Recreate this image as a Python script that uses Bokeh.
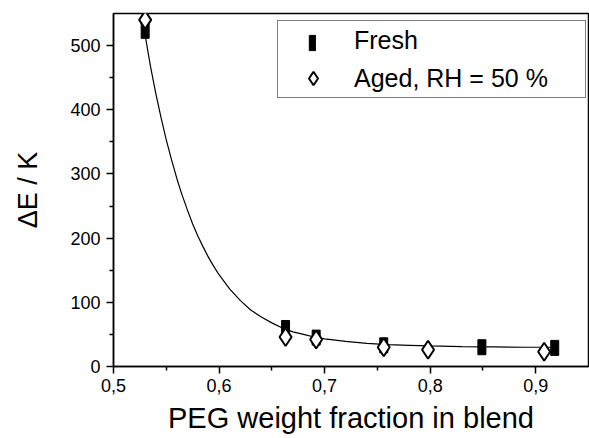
from bokeh.plotting import figure
from bokeh.models import Range1d, FixedTicker, Legend, LegendItem
from bokeh.embed import file_html
from bokeh.resources import INLINE

# ---- data ----
fresh_x = [0.530, 0.663, 0.692, 0.756, 0.849, 0.918]
fresh_y = [523, 60, 45, 33, 30, 29]

aged_x = [0.530, 0.663, 0.692, 0.756, 0.798, 0.908]
aged_y = [540, 46, 42, 30, 26, 23]

# fitted decay curve
fit_x = [0.530, 0.535, 0.540, 0.545, 0.550, 0.555, 0.560, 0.565, 0.570, 0.575,
         0.580, 0.585, 0.590, 0.595, 0.600, 0.610, 0.620, 0.630, 0.640, 0.650,
         0.660, 0.670, 0.680, 0.690, 0.700, 0.720, 0.740, 0.760, 0.780, 0.800,
         0.830, 0.860, 0.890, 0.920]
fit_y = [516, 468, 426, 388, 353, 322, 293, 267, 244, 222,
         203, 186, 170, 156, 143, 121, 103, 88, 77, 68,
         60, 54, 50, 46, 43, 39, 36, 34, 33, 32,
         31, 30.5, 30, 30]

x_ticks = [0.5, 0.6, 0.7, 0.8, 0.9]
x_tick_labels = ["0,5", "0,6", "0,7", "0,8", "0,9"]
x_minor_ticks = [0.55, 0.65, 0.75, 0.85]
y_ticks = [0, 100, 200, 300, 400, 500]
y_minor_ticks = [50, 150, 250, 350, 450]

series_labels = ["Fresh", "Aged, RH = 50 %"]

FONT = "Liberation Sans"

p = figure(width=589, height=438, x_range=Range1d(0.5, 0.95), y_range=Range1d(0, 550),
           output_backend="svg", toolbar_location=None,
           min_border_left=113, min_border_right=1, min_border_top=13, min_border_bottom=72)

p.xgrid.visible = False
p.ygrid.visible = False
p.outline_line_color = "black"
p.outline_line_width = 1.5
p.background_fill_color = "white"
p.border_fill_color = "white"

p.xaxis.ticker = FixedTicker(ticks=x_ticks, minor_ticks=x_minor_ticks)
p.xaxis.major_label_overrides = dict(zip(x_ticks, x_tick_labels))
p.yaxis.ticker = FixedTicker(ticks=y_ticks, minor_ticks=y_minor_ticks)

p.xaxis.axis_label = "PEG weight fraction in blend"
p.yaxis.axis_label = "ΔE / K"

for ax in (p.xaxis, p.yaxis):
    ax.axis_line_width = 1.5
    ax.axis_line_color = "black"
    ax.major_tick_line_width = 1.5
    ax.minor_tick_line_width = 1.5
    ax.major_tick_line_color = "black"
    ax.minor_tick_line_color = "black"
    ax.major_tick_out = 7
    ax.major_tick_in = 0
    ax.minor_tick_out = 4
    ax.minor_tick_in = 0
    ax.major_label_text_font = FONT
    ax.major_label_text_font_size = "18px"
    ax.major_label_text_color = "black"
    ax.axis_label_text_font = FONT
    ax.axis_label_text_font_style = "normal"
    ax.axis_label_text_color = "black"

p.xaxis.major_label_standoff = 5
p.xaxis.axis_label_text_font_size = "29px"
p.xaxis.axis_label_standoff = 7
p.yaxis.major_label_standoff = 6
p.yaxis.axis_label_text_font_size = "27px"
p.yaxis.axis_label_standoff = 24

# curve
p.line(fit_x, fit_y, line_color="black", line_width=1.2)

# Fresh: filled narrow rectangles
fresh_r = p.rect(fresh_x, fresh_y, width=8, height=15, width_units="screen",
                 height_units="screen", fill_color="black", line_color="black")
# invisible placeholder so the main legend keeps a row for Fresh
fresh_blank = p.scatter(fresh_x, fresh_y, marker="square", size=1,
                        fill_alpha=0, line_alpha=0, visible=False)

# Aged: open diamonds
aged_r = p.scatter(aged_x, aged_y, marker="diamond", size=18, fill_color="white",
                   line_color="black", line_width=2)

legend = Legend(items=[LegendItem(label=series_labels[0], renderers=[fresh_blank]),
                       LegendItem(label=series_labels[1], renderers=[aged_r])],
                location=(164, 268), orientation="vertical",
                glyph_width=66, glyph_height=34, spacing=4, padding=2, margin=0,
                label_standoff=8, label_width=229,
                label_text_font=FONT, label_text_font_size="25px", label_text_color="black",
                border_line_color="black", border_line_width=1,
                background_fill_color="white", background_fill_alpha=1.0)
p.add_layout(legend)

# overlay legend drawing only the narrow filled bar for Fresh
legend_bar = Legend(items=[LegendItem(label=" ", renderers=[fresh_r])],
                    location=(195, 314), orientation="vertical",
                    glyph_width=8, glyph_height=19, spacing=0, padding=0, margin=0,
                    label_standoff=0, label_width=1, label_height=10,
                    label_text_font=FONT, label_text_font_size="8px",
                    border_line_alpha=0, background_fill_alpha=0)
p.add_layout(legend_bar)

open("out.html", "w").write(file_html(p, INLINE))
